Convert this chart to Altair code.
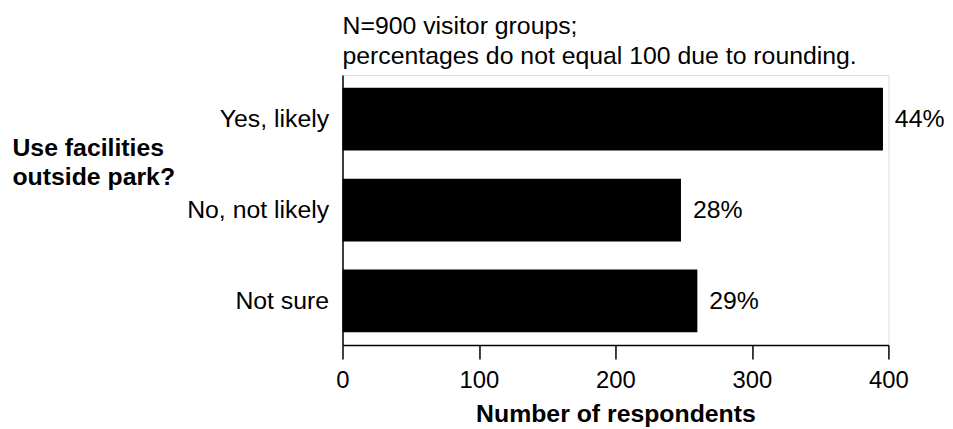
import altair as alt
import pandas as pd

categories = ["Yes, likely", "No, not likely", "Not sure"]
counts = [396, 248, 260]
pct_labels = ["44%", "28%", "29%"]
x_ticks = [0, 100, 200, 300, 400]

df = pd.DataFrame({"cat": categories, "n": counts, "pct": pct_labels})

FONT = "Liberation Sans"

y_enc = alt.Y(
    "cat:N",
    sort=categories,
    scale=alt.Scale(paddingInner=0.31, paddingOuter=0.14),
    axis=alt.Axis(
        title=["Use facilities", "outside park?"],
        titleAngle=0,
        titleAlign="left",
        titleBaseline="alphabetic",
        titleX=-333,
        titleY=81,
        titleFont=FONT,
        titleFontSize=25,
        titleFontWeight="bold",
        titleLineHeight=29,
        titleColor="black",
        ticks=False,
        labelPadding=14,
        labelFont=FONT,
        labelFontSize=25,
        labelColor="black",
        domainColor="black",
        domainWidth=1.5,
    ),
)

x_enc = alt.X(
    "n:Q",
    scale=alt.Scale(domain=[0, 400], nice=False),
    axis=alt.Axis(
        values=x_ticks,
        title="Number of respondents",
        titleFont=FONT,
        titleFontSize=25,
        titleFontWeight="bold",
        titleColor="black",
        titlePadding=9,
        labelFont=FONT,
        labelFontSize=24,
        labelColor="black",
        labelPadding=10,
        labelFlush=False,
        tickSize=14,
        tickColor="black",
        tickWidth=1.5,
        domainColor="black",
        domainWidth=1.5,
        grid=False,
    ),
)

bars = alt.Chart(df).mark_bar(color="black").encode(x=x_enc, y=y_enc)

text = alt.Chart(df).mark_text(
    align="left", baseline="middle", dx=12, font=FONT, fontSize=25, color="black"
).encode(x="n:Q", y=alt.Y("cat:N", sort=categories), text="pct:N")

chart = (
    alt.layer(bars, text)
    .properties(
        width=550,
        height=272,
        padding={"left": 4, "top": 5, "right": 0, "bottom": 0},
        title=alt.TitleParams(
            text=["N=900 visitor groups;", "percentages do not equal 100 due to rounding."],
            anchor="start",
            frame="group",
            font=FONT,
            fontSize=25,
            fontWeight="normal",
            lineHeight=30,
            color="black",
            offset=6,
        ),
    )
    .configure_view(stroke=None)
    .configure(background="white")
)

chart.save("out.html", embed_options={"renderer": "svg", "actions": False})
